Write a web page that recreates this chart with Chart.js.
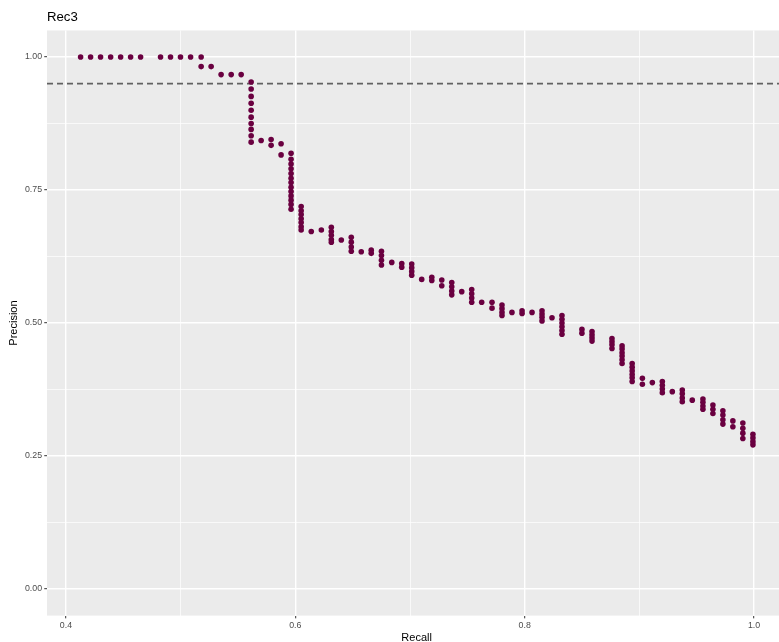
<!DOCTYPE html>
<html>
<head>
<meta charset="utf-8">
<title>Rec3</title>
<script src="https://cdn.jsdelivr.net/npm/chart.js@4.4.1/dist/chart.umd.min.js"></script>
<style>
  html, body { margin: 0; padding: 0; background: #ffffff; overflow: hidden; }
  #wrap { width: 779px; height: 642px; overflow: hidden; }
</style>
</head>
<body>
<div id="wrap"><canvas id="prChart" width="789" height="642"></canvas></div>
<script>
// recall values (x) and the precision values stacked at each recall
const recallSteps = [
  0.4128, 0.4215, 0.4302, 0.4390, 0.4477, 0.4564, 0.4651, 0.4825, 0.4912, 0.4999,
  0.5087, 0.5179, 0.5266, 0.5353, 0.5441, 0.5528, 0.5615, 0.5702, 0.5789, 0.5876,
  0.5963, 0.6051, 0.6139, 0.6227, 0.6314, 0.6401, 0.6488, 0.6575, 0.6662, 0.6751,
  0.6841, 0.6928, 0.7015, 0.7102, 0.7190, 0.7277, 0.7364, 0.7451, 0.7538, 0.7625,
  0.7715, 0.7802, 0.7889, 0.7977, 0.8064, 0.8151, 0.8238, 0.8325, 0.8499, 0.8587,
  0.8761, 0.8849, 0.8937, 0.9026, 0.9113, 0.9200, 0.9287, 0.9374, 0.9461, 0.9554,
  0.9641, 0.9728, 0.9815, 0.9902, 0.9990
];
const precisionAtStep = [
  [1.0], [1.0], [1.0], [1.0], [1.0], [1.0], [1.0], [1.0], [1.0], [1.0],
  [1.0], [1.0, 0.982], [0.982], [0.967], [0.967], [0.967],
  [0.953, 0.940, 0.926, 0.913, 0.900, 0.887, 0.875, 0.864, 0.852, 0.840],
  [0.843], [0.845, 0.834], [0.837, 0.816],
  [0.819, 0.808, 0.799, 0.790, 0.781, 0.772, 0.764, 0.755, 0.747, 0.739, 0.731, 0.723, 0.714],
  [0.719, 0.711, 0.704, 0.696, 0.689, 0.681, 0.675],
  [0.672], [0.675], [0.680, 0.672, 0.665, 0.657, 0.652], [0.656],
  [0.661, 0.652, 0.643, 0.635], [0.634], [0.637, 0.631], [0.635, 0.627, 0.618, 0.609],
  [0.614], [0.612, 0.605], [0.611, 0.604, 0.597, 0.590], [0.582], [0.586, 0.580],
  [0.581, 0.570], [0.576, 0.568, 0.560, 0.553], [0.559], [0.563, 0.555, 0.547, 0.539],
  [0.539], [0.539, 0.528], [0.534, 0.527, 0.520, 0.514], [0.520], [0.523, 0.518],
  [0.520], [0.523, 0.517, 0.511, 0.504], [0.510], [0.514, 0.507, 0.500, 0.493, 0.486, 0.479],
  [0.488, 0.481], [0.484, 0.478, 0.472, 0.466], [0.471, 0.465, 0.459, 0.452],
  [0.457, 0.451, 0.444, 0.438, 0.431, 0.424], [0.424, 0.417, 0.410, 0.403, 0.397, 0.390],
  [0.396, 0.385], [0.388], [0.390, 0.383, 0.376, 0.369], [0.371],
  [0.374, 0.367, 0.359, 0.352], [0.355], [0.357, 0.351, 0.344, 0.338],
  [0.346, 0.338, 0.330], [0.335, 0.327, 0.318, 0.310], [0.316, 0.305],
  [0.312, 0.302, 0.293, 0.283], [0.291, 0.284, 0.277, 0.271]
];
const cutoff = 0.95;

// axis breaks, empty label = minor grid line
const xTicks = [0.4, 0.5, 0.6, 0.7, 0.8, 0.9, 1.0];
const xLabels = ['0.4', '', '0.6', '', '0.8', '', '1.0'];
const yTicks = [0, 0.125, 0.25, 0.375, 0.5, 0.625, 0.75, 0.875, 1.0];
const yLabels = ['0.00', '', '0.25', '', '0.50', '', '0.75', '', '1.00'];

const xMin = 0.3835, xMax = 1.028;
const yMin = -0.05, yMax = 1.05;

// flatten into scatter points
const points = [];
recallSteps.forEach((r, i) => {
  precisionAtStep[i].forEach(p => points.push({ x: r, y: p }));
});

Chart.defaults.font.family = "'Liberation Sans', Arial, sans-serif";

// grey panel behind the plot
const panelBg = {
  id: 'panelBg',
  beforeDraw(chart) {
    const { ctx, chartArea: a } = chart;
    ctx.save();
    ctx.fillStyle = '#ebebeb';
    ctx.fillRect(a.left, a.top, a.right - a.left, a.bottom - a.top);
    ctx.restore();
  }
};

const isMajor = (labels) => (c) => labels[c.index] !== '';

const ctx = document.getElementById('prChart').getContext('2d');
const prChart = new Chart(ctx, {
  type: 'scatter',
  data: {
    datasets: [{
      label: 'Rec3',
      data: points,
      backgroundColor: '#6a0040',
      borderWidth: 0,
      pointRadius: 2.8,
      pointHoverRadius: 2.8
    }, {
      type: 'line',
      label: 'cutoff',
      data: [{ x: xMin, y: cutoff }, { x: xMax, y: cutoff }],
      borderColor: '#616161',
      borderWidth: 1.8,
      borderDash: [6, 4],
      pointRadius: 0,
      fill: false
    }]
  },
  options: {
    responsive: false,
    animation: false,
    devicePixelRatio: 1,
    layout: { padding: 0 },
    plugins: {
      legend: { display: false },
      tooltip: { enabled: false },
      title: {
        display: true,
        text: 'Rec3',
        align: 'start',
        fullSize: false,
        color: '#000000',
        font: { size: 13.2, weight: 'normal' },
        padding: { top: 9.6, bottom: 5 }
      }
    },
    scales: {
      x: {
        type: 'linear',
        min: xMin,
        max: xMax,
        afterBuildTicks: s => { s.ticks = xTicks.map(v => ({ value: v })); },
        afterFit: s => {
          s.height = 26.4;
          s.paddingLeft = 0; s.paddingRight = 0;
        },
        border: { display: false },
        grid: {
          color: '#ffffff',
          lineWidth: c => isMajor(xLabels)(c) ? 1.4 : 0.7,
          tickColor: c => isMajor(xLabels)(c) ? '#333333' : 'rgba(0,0,0,0)',
          tickLength: 2.75,
          tickWidth: 1
        },
        ticks: {
          autoSkip: false,
          maxRotation: 0,
          padding: 2.2,
          color: '#4d4d4d',
          font: { size: 8.8 },
          callback: (v, i) => xLabels[i]
        },
        title: {
          display: true,
          text: 'Recall',
          color: '#000000',
          font: { size: 11, lineHeight: 1 },
          padding: { top: 0, bottom: -1 }
        }
      },
      y: {
        type: 'linear',
        min: yMin,
        max: yMax,
        afterBuildTicks: s => { s.ticks = yTicks.map(v => ({ value: v })); },
        afterFit: s => {
          s.width = 47;
          s.paddingTop = 0; s.paddingBottom = 0;
        },
        border: { display: false },
        grid: {
          color: '#ffffff',
          lineWidth: c => isMajor(yLabels)(c) ? 1.4 : 0.7,
          tickColor: c => isMajor(yLabels)(c) ? '#333333' : 'rgba(0,0,0,0)',
          tickLength: 2.75,
          tickWidth: 1
        },
        ticks: {
          autoSkip: false,
          padding: 2.2,
          color: '#4d4d4d',
          font: { size: 8.8 },
          callback: (v, i) => yLabels[i]
        },
        title: {
          display: true,
          text: 'Precision',
          color: '#000000',
          font: { size: 11, lineHeight: 1 },
          padding: { top: 8, bottom: 0 }
        }
      }
    }
  },
  plugins: [panelBg]
});
</script>
</body>
</html>
